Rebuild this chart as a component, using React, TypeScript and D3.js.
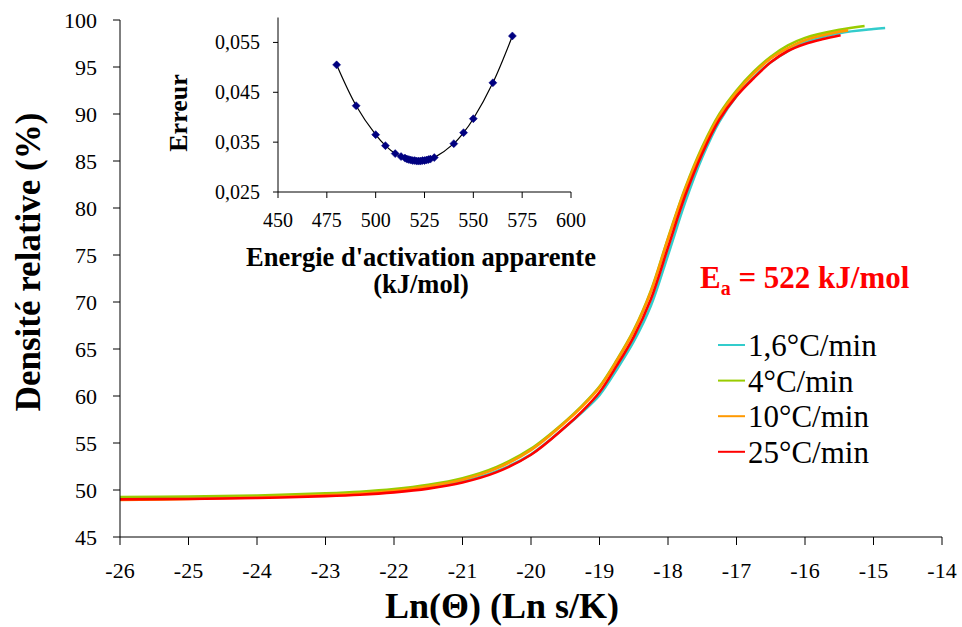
import React from "react";
import * as d3 from "d3";

// ---------- Main chart data ----------
const seriesNames = ["1,6°C/min", "4°C/min", "10°C/min", "25°C/min"];
const seriesColors = ["#33CCCC", "#99CC00", "#FF9900", "#FF0000"];

const lnTheta16 = [-26, -25, -24, -23, -22.5, -22, -21.5, -21, -20.5, -20, -19.5, -19.25, -19, -18.75, -18.5, -18.25, -18, -17.75, -17.5, -17.25, -17, -16.75, -16.5, -16.25, -16, -15.5, -15, -14.83];
const dens16 = [49.1, 49.15, 49.25, 49.45, 49.6, 49.85, 50.25, 50.9, 52.0, 53.8, 56.7, 58.3, 60.1, 62.8, 65.8, 69.6, 75.0, 80.6, 85.4, 89.2, 91.9, 93.9, 95.5, 96.7, 97.6, 98.6, 99.05, 99.15];

const lnTheta4 = [-26, -25, -24, -23, -22.5, -22, -21.5, -21, -20.5, -20, -19.5, -19.25, -19, -18.75, -18.5, -18.25, -18, -17.75, -17.5, -17.25, -17, -16.75, -16.5, -16.25, -16, -15.5, -15.13];
const dens4 = [49.25, 49.3, 49.42, 49.65, 49.82, 50.1, 50.55, 51.25, 52.45, 54.4, 57.3, 59.0, 61.0, 63.8, 67.0, 71.2, 76.8, 82.1, 86.5, 90.0, 92.5, 94.5, 96.1, 97.3, 98.1, 98.95, 99.36];

const lnTheta10 = [-26, -25, -24, -23, -22.5, -22, -21.5, -21, -20.5, -20, -19.5, -19.25, -19, -18.75, -18.5, -18.25, -18, -17.75, -17.5, -17.25, -17, -16.75, -16.5, -16.25, -16, -15.5, -15.37];
const dens10 = [48.95, 49.05, 49.2, 49.45, 49.62, 49.92, 50.4, 51.1, 52.3, 54.25, 57.2, 58.9, 60.9, 63.7, 66.9, 71.1, 76.7, 82.0, 86.3, 89.8, 92.3, 94.3, 95.9, 97.0, 97.85, 98.75, 98.9];

const lnTheta25 = [-26, -25, -24, -23, -22.5, -22, -21.5, -21, -20.5, -20, -19.5, -19.25, -19, -18.75, -18.5, -18.25, -18, -17.75, -17.5, -17.25, -17, -16.75, -16.5, -16.25, -16, -15.75, -15.48];
const dens25 = [49.0, 49.05, 49.15, 49.35, 49.5, 49.75, 50.15, 50.8, 51.9, 53.75, 56.7, 58.4, 60.4, 63.2, 66.3, 70.3, 75.8, 81.3, 85.8, 89.4, 91.9, 93.8, 95.5, 96.7, 97.45, 97.95, 98.37];

const xTicks = [-26, -25, -24, -23, -22, -21, -20, -19, -18, -17, -16, -15, -14];
const yTicks = [45, 50, 55, 60, 65, 70, 75, 80, 85, 90, 95, 100];

// ---------- Inset data ----------
const energies = [480, 490, 500, 505, 510, 513, 515, 516, 517, 518, 519, 520, 521, 522, 523, 524, 525, 526, 527, 528, 530, 540, 545, 550, 560, 570];
const errors = [0.0505, 0.0423, 0.0365, 0.0343, 0.0327, 0.0321, 0.0318, 0.0316, 0.0315, 0.0314, 0.0313, 0.0313, 0.0312, 0.0312, 0.0312, 0.0313, 0.0313, 0.0314, 0.0315, 0.0316, 0.0319, 0.0347, 0.0369, 0.0397, 0.0469, 0.0563];
const insetXTicks = [450, 475, 500, 525, 550, 575, 600];
const insetYTicks = [0.025, 0.035, 0.045, 0.055];

const FONT = '"Liberation Serif", "Times New Roman", Tinos, "DejaVu Serif", serif';

export default function App() {
  const W = 962, H = 627;
  const x = d3.scaleLinear().domain([-26, -14]).range([120, 942]);
  const y = d3.scaleLinear().domain([45, 100]).range([537, 20]);

  const ix = d3.scaleLinear().domain([450, 600]).range([278, 571]);
  const iy = d3.scaleLinear().domain([0.025, 0.06]).range([192, 17.5]);

  const series = [
    { xs: lnTheta16, ys: dens16 },
    { xs: lnTheta4, ys: dens4 },
    { xs: lnTheta10, ys: dens10 },
    { xs: lnTheta25, ys: dens25 },
  ];

  const line = d3
    .line<[number, number]>()
    .x((d) => x(d[0]))
    .y((d) => y(d[1]))
    .curve(d3.curveCatmullRom.alpha(0.5));

  const insetLine = d3
    .line<[number, number]>()
    .x((d) => ix(d[0]))
    .y((d) => iy(d[1]))
    .curve(d3.curveCatmullRom.alpha(0.5));

  const insetPts: [number, number][] = energies.map((e, i) => [e, errors[i]]);
  const fmtComma = (v: number) => v.toFixed(3).replace(".", ",");

  const legendY0 = 345;
  const legendStep = 35.6;
  const ts: React.CSSProperties = { fontFamily: FONT };

  return (
    <svg
      width={W}
      height={H}
      style={{ position: "absolute", left: 0, top: 0, background: "#fff", fontFamily: FONT }}
    >
      <rect x={0} y={0} width={W} height={H} fill="#fff" />

      {/* main series */}
      {series.map((s, i) => (
        <path
          key={i}
          d={line(s.xs.map((v, j) => [v, s.ys[j]] as [number, number])) || ""}
          fill="none"
          stroke={seriesColors[i]}
          strokeWidth={2.6}
        />
      ))}

      {/* main axes */}
      <line x1={x(-26)} x2={x(-26)} y1={y(100)} y2={y(45)} stroke="#000" strokeWidth={1} />
      <line x1={x(-26)} x2={x(-14)} y1={y(45)} y2={y(45)} stroke="#000" strokeWidth={1} />
      {yTicks.map((t) => (
        <g key={"yt" + t}>
          <line x1={x(-26) - 7} x2={x(-26)} y1={y(t)} y2={y(t)} stroke="#000" />
          <text x={97} y={y(t) + 8} textAnchor="end" fontSize={22} fill="#000" style={ts}>
            {t}
          </text>
        </g>
      ))}
      {xTicks.map((t) => (
        <g key={"xt" + t}>
          <line x1={x(t)} x2={x(t)} y1={y(45)} y2={y(45) + 8} stroke="#000" />
          <text x={x(t)} y={578} textAnchor="middle" fontSize={22} fill="#000" style={ts}>
            {t}
          </text>
        </g>
      ))}

      {/* main axis titles */}
      <text x={502} y={618} textAnchor="middle" fontSize={36} fontWeight="bold" fill="#000" style={ts}>
        Ln(Θ) (Ln s/K)
      </text>
      <text
        transform={`translate(40,262) rotate(-90)`}
        textAnchor="middle"
        fontSize={35}
        fontWeight="bold"
        fill="#000"
        style={ts}
      >
        Densité relative (%)
      </text>

      {/* Ea annotation */}
      <text x={700} y={288} fontSize={31} fontWeight="bold" fill="#FF0000" style={ts}>
        E<tspan fontSize={20} dy={7}>a</tspan>
        <tspan dy={-7}> = 522 kJ/mol</tspan>
      </text>

      {/* legend */}
      {seriesNames.map((n, i) => (
        <g key={n}>
          <line
            x1={718}
            x2={745}
            y1={legendY0 + i * legendStep}
            y2={legendY0 + i * legendStep}
            stroke={seriesColors[i]}
            strokeWidth={2}
          />
          <text x={748} y={legendY0 + i * legendStep + 11} fontSize={31} fill="#000" style={ts}>
            {n}
          </text>
        </g>
      ))}

      {/* inset */}
      <path d={insetLine(insetPts) || ""} fill="none" stroke="#000" strokeWidth={1.2} />
      {insetPts.map((p, i) => {
        const cx = ix(p[0]);
        const cy = iy(p[1]);
        const r = 4;
        return (
          <path
            key={"m" + i}
            d={`M${cx},${cy - r}L${cx + r},${cy}L${cx},${cy + r}L${cx - r},${cy}Z`}
            fill="#000080"
            stroke="#000080"
            strokeWidth={0.5}
          />
        );
      })}
      <line x1={ix(450)} x2={ix(450)} y1={iy(0.06)} y2={iy(0.025)} stroke="#000" />
      <line x1={ix(450)} x2={ix(600)} y1={iy(0.025)} y2={iy(0.025)} stroke="#000" />
      {insetYTicks.map((t) => (
        <g key={"iyt" + t}>
          <line x1={ix(450) - 5} x2={ix(450)} y1={iy(t)} y2={iy(t)} stroke="#000" />
          <text x={260} y={iy(t) + 7} textAnchor="end" fontSize={20} fill="#000" style={ts}>
            {fmtComma(t)}
          </text>
        </g>
      ))}
      {insetXTicks.map((t) => (
        <g key={"ixt" + t}>
          <line x1={ix(t)} x2={ix(t)} y1={iy(0.025)} y2={iy(0.025) + 6} stroke="#000" />
          <text x={ix(t)} y={227} textAnchor="middle" fontSize={20} fill="#000" style={ts}>
            {t}
          </text>
        </g>
      ))}
      <text x={421} y={266} textAnchor="middle" fontSize={26.5} fontWeight="bold" fill="#000" style={ts}>
        Energie d'activation apparente
      </text>
      <text x={421} y={293} textAnchor="middle" fontSize={26.5} fontWeight="bold" fill="#000" style={ts}>
        (kJ/mol)
      </text>
      <text
        transform={`translate(187,113) rotate(-90)`}
        textAnchor="middle"
        fontSize={26}
        fontWeight="bold"
        fill="#000"
        style={ts}
      >
        Erreur
      </text>
    </svg>
  );
}
